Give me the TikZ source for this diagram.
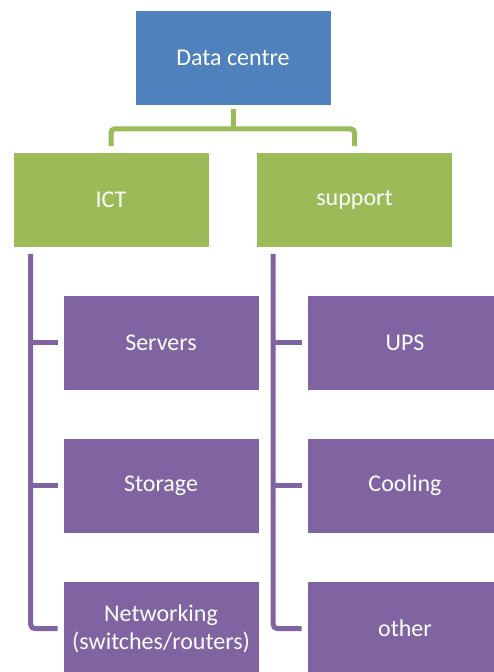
\documentclass[tikz,border=0pt]{standalone}
\usepackage{fontspec}
\setmainfont{Carlito}
\definecolor{cblue}{HTML}{4F81BD}
\definecolor{cgreen}{HTML}{9BBB59}
\definecolor{cpurple}{HTML}{8064A2}
\begin{document}
\begin{tikzpicture}[x=1pt,y=-1pt,
  box/.style={rectangle, draw=white, line width=0.6pt, minimum width=196pt, minimum height=95pt,
    inner sep=0pt, text=white, align=center, font=\fontsize{24}{28}\selectfont},
  topbox/.style={box, fill=cblue},
  midbox/.style={box, fill=cgreen},
  leafbox/.style={box, fill=cpurple},
  gline/.style={draw=cgreen, line width=5pt, rounded corners=4pt},
  pline/.style={draw=cpurple, line width=5pt, rounded corners=4pt}]
\useasboundingbox (0,0) rectangle (493,672);
\node[topbox] (top) at (233,57.5) {Data centre};
\node[midbox] (ict) at (111,200) {ICT};
\node[midbox] (sup) at (354.5,200) {support};
\node[leafbox] (srv) at (161,342.5) {Servers};
\node[leafbox] (sto) at (161,485.5) {Storage};
\node[leafbox] (net) at (161,628.5) {Networking\\(switches/routers)};
\node[leafbox] (ups) at (405,342.5) {UPS};
\node[leafbox] (col) at (405,485.5) {Cooling};
\node[leafbox] (oth) at (405,628.5) {other};
% green connectors
\draw[gline] ([yshift=-4pt]top.south) -- ([yshift=-23.5pt]top.south);
\draw[gline] ([yshift=6pt]ict.north) |- ([yshift=-23.5pt]top.south) -| ([yshift=6pt]sup.north);
% purple connectors
\draw[pline] ([xshift=18pt,yshift=-6pt]ict.south west) |- ([xshift=-5pt]net.west);
\draw[pline] ([xshift=-32pt]srv.west) -- ([xshift=-5pt]srv.west);
\draw[pline] ([xshift=-32pt]sto.west) -- ([xshift=-5pt]sto.west);
\draw[pline] ([xshift=17pt,yshift=-6pt]sup.south west) |- ([xshift=-5pt]oth.west);
\draw[pline] ([xshift=-33pt]ups.west) -- ([xshift=-5pt]ups.west);
\draw[pline] ([xshift=-33pt]col.west) -- ([xshift=-5pt]col.west);
\end{tikzpicture}
\end{document}
